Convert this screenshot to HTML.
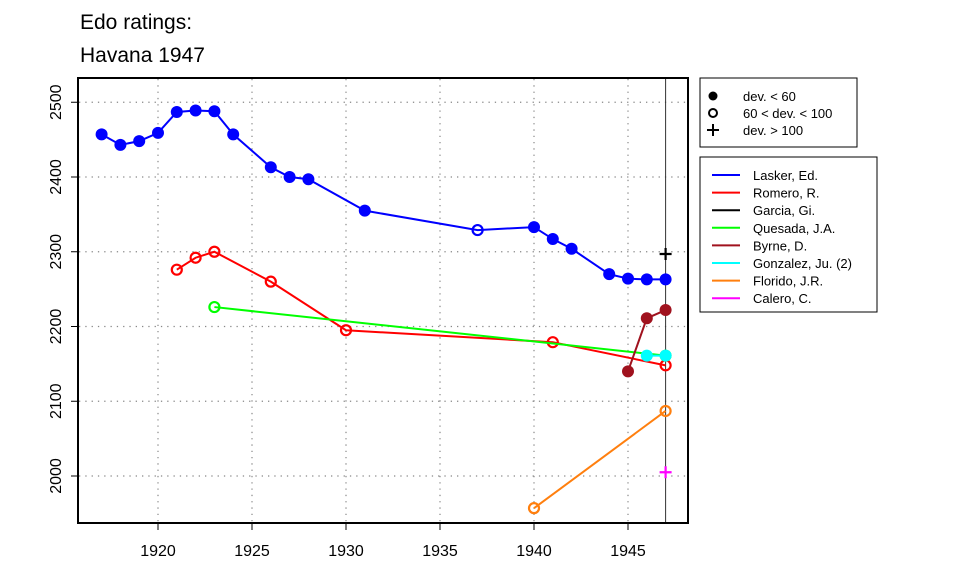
<!DOCTYPE html>
<html><head><meta charset="utf-8"><style>
body{margin:0;background:#fff;}
svg{display:block;font-family:"Liberation Sans",sans-serif;}
</style></head><body>
<svg id="chart" width="960" height="576" viewBox="0 0 960 576">
<text x="80" y="29" font-size="21">Edo ratings:</text>
<text x="80" y="62" font-size="21">Havana 1947</text>
<g id="grid"></g>
<g id="series"></g>
<rect x="78" y="78" width="610" height="445" fill="none" stroke="#000" stroke-width="2"/>
<g id="axes"></g>
<g>
<rect x="700" y="78" width="157" height="69" fill="#fff" stroke="#000" stroke-width="1"/>
<circle cx="713" cy="96" r="4.5" fill="#000"/>
<text x="743" y="101" font-size="13">dev. &lt; 60</text>
<circle cx="713" cy="113" r="4" fill="none" stroke="#000" stroke-width="2"/>
<text x="743" y="118" font-size="13">60 &lt; dev. &lt; 100</text>
<path d="M707 130H719M713 124V136" stroke="#000" stroke-width="2"/>
<text x="743" y="135" font-size="13">dev. &gt; 100</text>
</g>
<g id="legend">
<rect x="700" y="157" width="177" height="155" fill="#fff" stroke="#000" stroke-width="1"/>
</g>
</svg>
<script>
const NS="http://www.w3.org/2000/svg";
const players=["Lasker, Ed.","Romero, R.","Garcia, Gi.","Quesada, J.A.","Byrne, D.","Gonzalez, Ju. (2)","Florido, J.R.","Calero, C."];
const colors=["#0000ff","#ff0000","#000000","#00ff00","#a0121e","#00ffff","#ff7f0e","#ff00ff"];
const laskerYears=[1917,1918,1919,1920,1921,1922,1923,1924,1926,1927,1928,1931,1937,1940,1941,1942,1944,1945,1946,1947];
const laskerRatings=[2457,2443,2448,2459,2487,2489,2488,2457,2413,2400,2397,2355,2329,2333,2317,2304,2270,2264,2263,2263];
const laskerDev=["f","f","f","f","f","f","f","f","f","f","f","f","o","f","f","f","f","f","f","f"];
const romeroYears=[1921,1922,1923,1926,1930,1941,1947];
const romeroRatings=[2276,2292,2300,2260,2195,2179,2148];
const romeroDev=["o","o","o","o","o","o","o"];
const garciaYears=[1947];
const garciaRatings=[2297];
const garciaDev=["p"];
const quesadaYears=[1923,1947];
const quesadaRatings=[2226,2161];
const quesadaDev=["o","f"];
const byrneYears=[1945,1946,1947];
const byrneRatings=[2140,2211,2222];
const byrneDev=["f","f","f"];
const gonzalezYears=[1946,1947];
const gonzalezRatings=[2161,2161];
const gonzalezDev=["f","f"];
const floridoYears=[1940,1947];
const floridoRatings=[1957,2087];
const floridoDev=["o","o"];
const caleroYears=[1947];
const caleroRatings=[2005];
const caleroDev=["p"];
const xTicks=[1920,1925,1930,1935,1940,1945];
const yTicks=[2000,2100,2200,2300,2400,2500];
const seriesYears=[laskerYears,romeroYears,garciaYears,quesadaYears,byrneYears,gonzalezYears,floridoYears,caleroYears];
const seriesRatings=[laskerRatings,romeroRatings,garciaRatings,quesadaRatings,byrneRatings,gonzalezRatings,floridoRatings,caleroRatings];
const seriesDev=[laskerDev,romeroDev,garciaDev,quesadaDev,byrneDev,gonzalezDev,floridoDev,caleroDev];
const eventYear=1947;

function xs(v){return 158+(v-1920)*18.8;}
function ys(v){return 476-(v-2000)*0.7475;}
function mk(tag,attrs,parent){const e=document.createElementNS(NS,tag);for(const k in attrs)e.setAttribute(k,attrs[k]);parent.appendChild(e);return e;}
function slug(s){return s.toLowerCase().replace(/[^a-z0-9]+/g,'-').replace(/-+$/,'');}

const grid=document.getElementById('grid'),axes=document.getElementById('axes'),ser=document.getElementById('series'),leg=document.getElementById('legend');
xTicks.forEach(t=>{
  const l=mk('line',{x1:xs(t),x2:xs(t),y1:79,y2:522,stroke:'#888','stroke-dasharray':'1.3 5','stroke-width':1.2},grid);
  
  
  const tk=mk('line',{x1:xs(t),x2:xs(t),y1:523,y2:530,stroke:'#000','stroke-width':1},axes);
  
  
  const tx=mk('text',{x:xs(t),y:556,'font-size':16,'text-anchor':'middle'},axes);
  tx.textContent=t;
  
  
});
yTicks.forEach(t=>{
  const l=mk('line',{x1:79,x2:687,y1:ys(t),y2:ys(t),stroke:'#888','stroke-dasharray':'1.3 5','stroke-width':1.2},grid);
  
  
  const tk=mk('line',{x1:71,x2:78,y1:ys(t),y2:ys(t),stroke:'#000','stroke-width':1},axes);
  
  
  const tx=mk('text',{x:0,y:0,'font-size':16,'text-anchor':'middle',transform:`translate(61,${ys(t)}) rotate(-90)`},axes);
  tx.textContent=t;
  
  
});
const ev=mk('line',{x1:xs(eventYear),x2:xs(eventYear),y1:78,y2:523,stroke:'#333','stroke-width':1},ser);



players.forEach((p,i)=>{
  const g=mk('g',{},ser);
  
  
  const yr=seriesYears[i],rt=seriesRatings[i],dv=seriesDev[i],c=colors[i];
  if(yr.length>1){
    const pl=mk('polyline',{points:yr.map((y,j)=>xs(y)+','+ys(rt[j])).join(' '),fill:'none',stroke:c,'stroke-width':2},g);
    
    
  }
  yr.forEach((y,j)=>{
    const cx=xs(y),cy=ys(rt[j]);let m;
    if(dv[j]==='f')m=mk('circle',{cx,cy,r:6,fill:c},g);
    else if(dv[j]==='o')m=mk('circle',{cx,cy,r:5,fill:'none',stroke:c,'stroke-width':2.2},g);
    else m=mk('path',{d:`M${cx-6} ${cy}H${cx+6}M${cx} ${cy-6}V${cy+6}`,stroke:c,'stroke-width':2.2},g);
    
    
  });
  const ly=175+i*17.6;
  const le=mk('g',{},leg);
  
  
  mk('line',{x1:712,x2:740,y1:ly,y2:ly,stroke:c,'stroke-width':2},le);
  const t=mk('text',{x:753,y:ly+5,'font-size':13},le);
  t.textContent=p;
});
</script>
</body></html>
